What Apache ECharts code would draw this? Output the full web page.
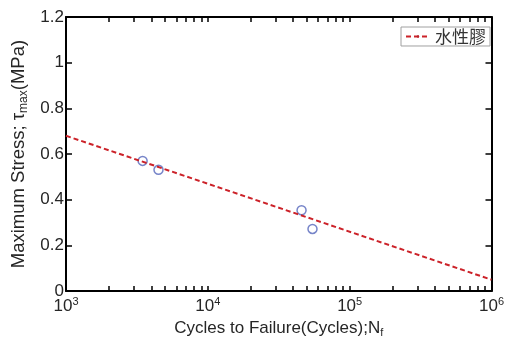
<!DOCTYPE html>
<html>
<head>
<meta charset="utf-8">
<script src="https://cdn.jsdelivr.net/npm/echarts@6/dist/echarts.min.js"></script>
<style>html,body{margin:0;padding:0;background:#fff}#c{width:507px;height:343px}</style>
</head>
<body>
<div id="c"></div>
<script>
// data
var cycles = [3470, 4490, 45800, 54700];
var stress = [0.57, 0.531, 0.354, 0.272];
var fitCycles = [1000, 1000000];
var fitStress = [0.68, 0.05];
var seriesName = '水性膠';
var xMajorTicks = [1000, 10000, 100000, 1000000];
var xMinorTicks = [2000,3000,4000,5000,6000,7000,8000,9000,
  20000,30000,40000,50000,60000,70000,80000,90000,
  200000,300000,400000,500000,600000,700000,800000,900000];
var yTicks = [0, 0.2, 0.4, 0.6, 0.8, 1, 1.2];

var chart = echarts.init(document.getElementById('c'));
var font = 'Liberation Sans, Arial, sans-serif';
var txt = '#262626';
var pts = cycles.map(function (c, i) { return [c, stress[i]]; });
var fit = fitCycles.map(function (c, i) { return [c, fitStress[i]]; });

function xl(v) {
  var e = Math.round(Math.log10(v));
  return '10{s|' + e + '}';
}
var baseX = {
  type: 'log', logBase: 10, min: 1000, max: 1000000,
  splitLine: { show: false },
  axisLine: { show: true, onZero: false, lineStyle: { color: '#000', width: 2 } }
};
var opt = {
  animation: false,
  backgroundColor: '#fff',
  grid: { left: 66, right: 13, top: 17, bottom: 48, show: false },
  legend: {
    show: true,
    right: 17, top: 27,
    data: [seriesName],
    backgroundColor: '#fff',
    borderColor: '#a0a0a0', borderWidth: 1, borderRadius: 0,
    padding: [1, 4, 1, 4],
    itemWidth: 24, itemHeight: 3, itemGap: 4,
    textStyle: { fontFamily: 'Noto Sans CJK TC', fontSize: 17, color: '#333' }
  },
  xAxis: [
    Object.assign({}, baseX, {
      position: 'bottom',
      name: 'Cycles to Failure(Cycles);N{b|f}',
      nameLocation: 'middle', nameGap: 19,
      nameTextStyle: { fontFamily: font, fontSize: 17, color: txt, rich: { b: { fontSize: 11, verticalAlign: 'bottom', padding: [9, 0, 0, 0], fontFamily: font, color: txt } } },
      axisTick: { show: true, inside: true, length: 5, lineStyle: { color: '#000', width: 1.5 }, customValues: xMajorTicks.concat(xMinorTicks) },
      axisLabel: {
        show: true, margin: 5, customValues: xMajorTicks, formatter: xl,
        fontFamily: font, fontSize: 17, color: txt,
        rich: { s: { fontSize: 11, verticalAlign: 'top', padding: [0, 0, 9, 0], fontFamily: font, color: txt } }
      }
    }),
    Object.assign({}, baseX, {
      position: 'top',
      axisTick: { show: true, inside: true, length: 5, lineStyle: { color: '#000', width: 1.5 }, customValues: xMajorTicks.concat(xMinorTicks) },
      axisLabel: { show: false }
    })
  ],
  yAxis: [
    {
      type: 'value', min: 0, max: 1.2, interval: 0.2, position: 'left',
      name: 'Maximum Stress; τ{b|max}(MPa)',
      nameLocation: 'middle', nameGap: 35, nameRotate: 90,
      nameTextStyle: { fontFamily: font, fontSize: 18.5, color: txt, rich: { b: { fontSize: 12, verticalAlign: 'bottom', padding: [10, 0, 0, 0], fontFamily: font, color: txt } } },
      splitLine: { show: false },
      axisLine: { show: true, onZero: false, lineStyle: { color: '#000', width: 2 } },
      axisTick: { show: true, inside: true, length: 6, lineStyle: { color: '#000', width: 1.5 }, customValues: yTicks },
      axisLabel: { show: true, margin: 2, fontFamily: font, fontSize: 17, color: txt, customValues: yTicks }
    },
    {
      type: 'value', min: 0, max: 1.2, interval: 0.2, position: 'right',
      splitLine: { show: false },
      axisLine: { show: true, onZero: false, lineStyle: { color: '#000', width: 2 } },
      axisTick: { show: true, inside: true, length: 6, lineStyle: { color: '#000', width: 1.5 } },
      axisLabel: { show: false }
    }
  ],
  series: [
    {
      name: seriesName, type: 'line', xAxisIndex: 0, yAxisIndex: 0,
      data: fit, symbol: 'none', showSymbol: false,
      legendIcon: 'path://M0,0h6v3h-6z M9,0h6v3h-6z M18,0h6v3h-6z',
      lineStyle: { color: '#cc2229', width: 2, type: [5, 3] },
      itemStyle: { color: '#b8232c' }
    },
    {
      name: 'data', type: 'scatter', xAxisIndex: 0, yAxisIndex: 0,
      data: pts, symbol: 'circle', symbolSize: 9,
      itemStyle: { color: 'rgba(0,0,0,0)', borderColor: '#5566bb', borderWidth: 1.5 }
    }
  ]
};
chart.setOption(opt);
</script>
</body>
</html>
